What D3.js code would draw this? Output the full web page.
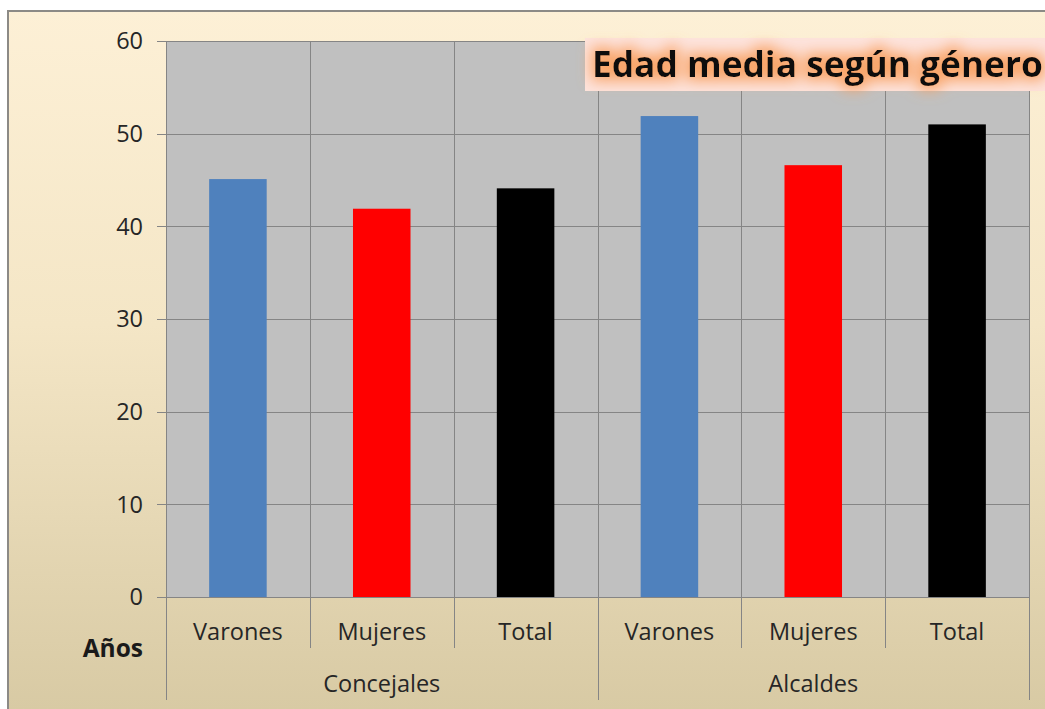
<!DOCTYPE html>
<html>
<head>
<meta charset="utf-8">
<script src="https://cdn.jsdelivr.net/npm/d3@7"></script>
<style>
  html, body { margin: 0; padding: 0; background: #fff; }
  svg { display: block; }
  text { font-family: "Open Sans", "Noto Sans", sans-serif; }
</style>
</head>
<body>
<svg width="1045" height="709"></svg>
<script>
const groups = ["Concejales", "Alcaldes"];
const categories = ["Varones", "Mujeres", "Total"];
const concejalesValues = [45.1, 41.9, 44.1];
const alcaldesValues = [51.9, 46.6, 51.0];
const barColors = ["#4f81bd", "#ff0000", "#000000"];
const yTicks = [0, 10, 20, 30, 40, 50, 60];
const titleText = "Edad media según género";
const axisTitle = "Años";

const svg = d3.select("svg");
const width = +svg.attr("width");
const height = +svg.attr("height");
const plot = { left: 166, right: 1029, top: 41, bottom: 597 };

// flatten to one row per bar
const valuesByGroup = { Concejales: concejalesValues, Alcaldes: alcaldesValues };
const data = [];
groups.forEach(g => {
  categories.forEach((c, i) => {
    data.push({ key: g + "-" + c, group: g, cat: c, value: valuesByGroup[g][i], color: barColors[i] });
  });
});

const defs = svg.append("defs");
const bg = defs.append("linearGradient").attr("id", "bg").attr("x1", 0).attr("y1", 0).attr("x2", 0).attr("y2", 1);
bg.append("stop").attr("offset", "0%").attr("stop-color", "#fdf0d6");
bg.append("stop").attr("offset", "45%").attr("stop-color", "#f4e6c6");
bg.append("stop").attr("offset", "100%").attr("stop-color", "#d8caa4");

const glow = defs.append("filter").attr("id", "glow")
  .attr("x", "-5%").attr("y", "-50%").attr("width", "110%").attr("height", "200%");
glow.append("feMorphology").attr("in", "SourceAlpha").attr("operator", "dilate").attr("radius", 4).attr("result", "thick");
glow.append("feGaussianBlur").attr("in", "thick").attr("stdDeviation", 7).attr("result", "blur");
glow.append("feFlood").attr("flood-color", "#f8a060").attr("flood-opacity", 0.9);
glow.append("feComposite").attr("in2", "blur").attr("operator", "in").attr("result", "orange");
const merge = glow.append("feMerge");
merge.append("feMergeNode").attr("in", "orange");
merge.append("feMergeNode").attr("in", "SourceGraphic");

// slide background and frame
svg.append("rect").attr("x", 7).attr("y", 10).attr("width", width - 7).attr("height", height - 10).attr("fill", "url(#bg)");
svg.append("path").attr("d", `M8,${height} V11 H${width}`).attr("fill", "none").attr("stroke", "#8c8a86").attr("stroke-width", 2);

const x = d3.scaleBand().domain(data.map(d => d.key)).range([plot.left, plot.right]).padding(0);
const y = d3.scaleLinear().domain([0, 60]).range([plot.bottom, plot.top]);
const gx = d3.scaleBand().domain(groups).range([plot.left, plot.right]);

const gridColor = "#858585";

// plot area
svg.append("rect")
  .attr("x", plot.left).attr("y", plot.top)
  .attr("width", plot.right - plot.left).attr("height", plot.bottom - plot.top)
  .attr("fill", "#c0c0c0");

svg.append("g").selectAll("line")
  .data(yTicks)
  .join("line")
  .attr("x1", plot.left - 9).attr("x2", plot.right)
  .attr("y1", d => Math.round(y(d)) + 0.5).attr("y2", d => Math.round(y(d)) + 0.5)
  .attr("stroke", gridColor).attr("stroke-width", 1);

// vertical separators between categories
svg.append("g").selectAll("line")
  .data(data.slice(1))
  .join("line")
  .attr("x1", d => Math.round(x(d.key)) + 0.5).attr("x2", d => Math.round(x(d.key)) + 0.5)
  .attr("y1", plot.top)
  .attr("y2", d => d.cat === categories[0] ? 700 : 648)
  .attr("stroke", gridColor);

svg.append("line")
  .attr("x1", plot.left + 0.5).attr("x2", plot.left + 0.5)
  .attr("y1", plot.top).attr("y2", 700).attr("stroke", gridColor);
svg.append("line")
  .attr("x1", plot.right + 0.5).attr("x2", plot.right + 0.5)
  .attr("y1", plot.top).attr("y2", 700).attr("stroke", gridColor);

// bars
const barFrac = 0.4;
svg.append("g").selectAll("rect")
  .data(data)
  .join("rect")
  .attr("x", d => x(d.key) + x.bandwidth() * (1 - barFrac) / 2)
  .attr("width", x.bandwidth() * barFrac)
  .attr("y", d => y(d.value))
  .attr("height", d => y(0) - y(d.value))
  .attr("fill", d => d.color);

// y tick labels
svg.append("g").selectAll("text")
  .data(yTicks)
  .join("text")
  .attr("x", 143).attr("y", d => y(d))
  .attr("dy", "0.35em")
  .attr("text-anchor", "end")
  .attr("font-size", 23.5)
  .attr("fill", "#262626")
  .text(d => d);

// category labels
svg.append("g").selectAll("text")
  .data(data)
  .join("text")
  .attr("x", d => x(d.key) + x.bandwidth() / 2)
  .attr("y", 632)
  .attr("dy", "0.35em")
  .attr("text-anchor", "middle")
  .attr("font-size", 23.5)
  .attr("fill", "#262626")
  .text(d => d.cat);

// group labels
svg.append("g").selectAll("text")
  .data(groups)
  .join("text")
  .attr("x", d => gx(d) + gx.bandwidth() / 2)
  .attr("y", 684)
  .attr("dy", "0.35em")
  .attr("text-anchor", "middle")
  .attr("font-size", 23.5)
  .attr("fill", "#262626")
  .text(d => d);

svg.append("text")
  .attr("x", 143).attr("y", 648)
  .attr("dy", "0.35em")
  .attr("text-anchor", "end")
  .attr("font-size", 24.5)
  .attr("font-weight", "bold")
  .attr("fill", "#1a1a1a")
  .text(axisTitle);

// title box
svg.append("rect")
  .attr("x", 585).attr("y", 38).attr("width", width - 585).attr("height", 53)
  .attr("fill", "#fde3dc");

const title = svg.append("text")
  .attr("x", 592).attr("y", 77)
  .attr("font-size", 36)
  .attr("font-weight", "bold")
  .attr("fill", "#0d0d0d")
  .attr("filter", "url(#glow)")
  .text(titleText);
const tw = title.node().getComputedTextLength();
if (tw > 0) title.attr("font-size", 36 * 451 / tw);
</script>
</body>
</html>
